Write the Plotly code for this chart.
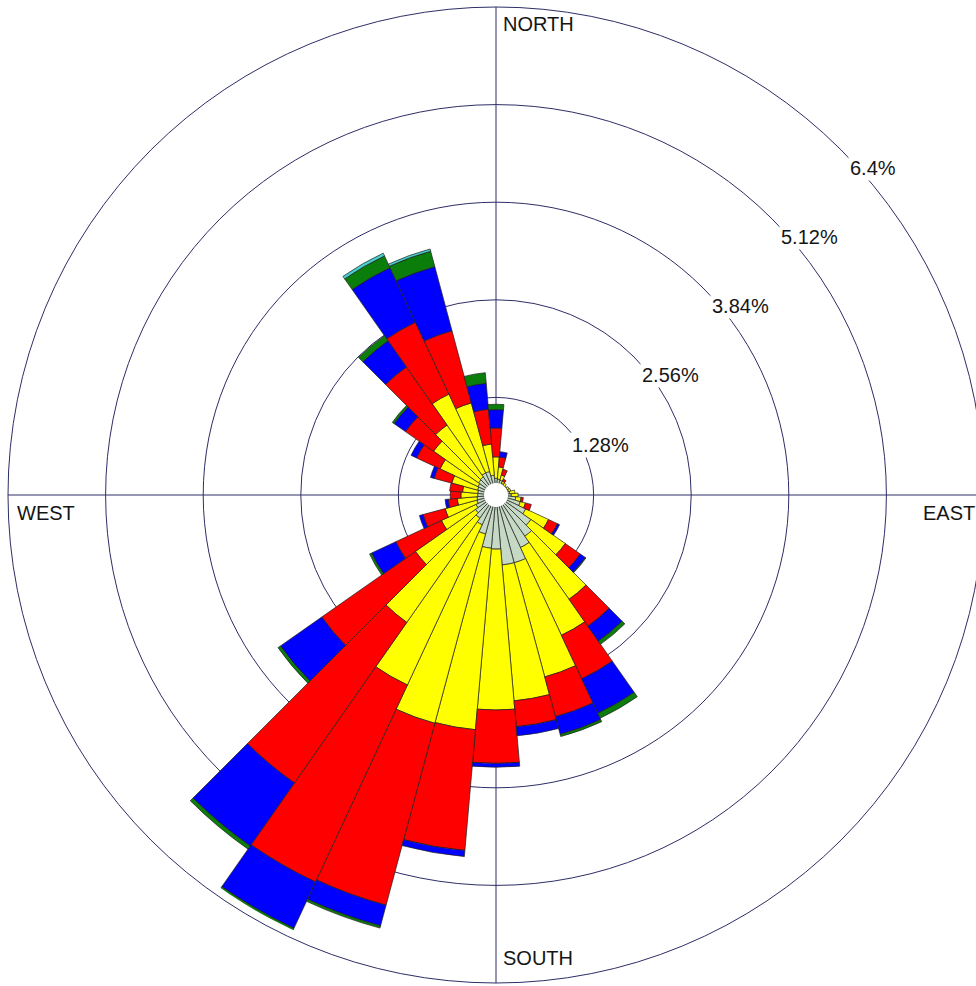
import numpy as np
import plotly.graph_objects as go

# 36 direction sectors (degrees clockwise from north)
directions = list(range(0, 360, 10))

# frequency (%) of each speed class per sector, lowest class first
speed_class_1 = [0.22, 0.21, 0.20, 0.17, 0.16, 0.16, 0.16, 0.17, 0.18, 0.20,
                 0.26, 0.33, 0.43, 0.56, 0.66, 0.76, 0.92, 0.92, 0.71, 0.70,
                 0.53, 0.43, 0.37, 0.33, 0.29, 0.26, 0.25, 0.24, 0.24, 0.25,
                 0.26, 0.28, 0.29, 0.32, 0.32, 0.26]
speed_class_2 = [0.28, 0.16, 0.07, 0.03, 0.03, 0.01, 0.03, 0.03, 0.07, 0.09,
                 0.07, 0.07, 0.33, 0.55, 1.01, 1.27, 1.55, 1.79, 2.11, 2.39,
                 2.57, 2.32, 1.67, 0.96, 0.50, 0.43, 0.26, 0.22, 0.20, 0.35,
                 0.55, 0.72, 0.83, 1.14, 0.93, 0.41]
speed_class_3 = [0.38, 0.13, 0.08, 0.03, 0.00, 0.00, 0.00, 0.00, 0.00, 0.00,
                 0.03, 0.08, 0.13, 0.24, 0.43, 0.63, 0.54, 0.34, 0.70, 1.59,
                 2.47, 2.85, 2.57, 1.50, 0.66, 0.30, 0.12, 0.14, 0.17, 0.24,
                 0.34, 0.45, 0.93, 1.04, 0.98, 0.46]
speed_class_4 = [0.24, 0.07, 0.00, 0.00, 0.00, 0.00, 0.00, 0.00, 0.00, 0.00,
                 0.00, 0.00, 0.03, 0.08, 0.24, 0.50, 0.24, 0.12, 0.05, 0.08,
                 0.28, 0.67, 1.01, 0.66, 0.35, 0.05, 0.04, 0.00, 0.00, 0.05,
                 0.08, 0.18, 0.42, 0.79, 0.87, 0.34]
speed_class_5 = [0.07, 0.00, 0.00, 0.00, 0.00, 0.00, 0.00, 0.00, 0.00, 0.00,
                 0.00, 0.00, 0.00, 0.01, 0.05, 0.07, 0.03, 0.00, 0.00, 0.00,
                 0.03, 0.03, 0.05, 0.04, 0.03, 0.00, 0.00, 0.00, 0.00, 0.00,
                 0.00, 0.03, 0.08, 0.17, 0.21, 0.14]
speed_class_6 = [0.00] * 33 + [0.04, 0.03, 0.00]

class_series = [speed_class_1, speed_class_2, speed_class_3,
                speed_class_4, speed_class_5, speed_class_6]
class_names = ["Class 1", "Class 2", "Class 3", "Class 4", "Class 5", "Class 6"]
class_colors = ["#C5D9C5", "#FFFF00", "#FF0000", "#0000FF", "#0B7D0B", "#48D1CC"]

# rings and their labels
ring_values = [1.28, 2.56, 3.84, 5.12, 6.4]
ring_labels = ["1.28%", "2.56%", "3.84%", "5.12%", "6.4%"]
label_bearing = [59.0, 52.0, 49.8, 48.6, 47.9]   # where each label sits on its ring
compass_labels = ["NORTH", "EAST", "SOUTH", "WEST"]

# layout geometry
W, H = 976, 986
M_L, M_R, M_T, M_B = 16, 0, 15, 11
PLOT = 960                      # square polar area in px
PX_PER_PCT = 76.25
R_MAX = (PLOT / 2) / PX_PER_PCT  # radial range shown by the polar area
HOLE = 0.157                    # white centre disc

GRID = "#2E2E66"
FONT = dict(family="Liberation Sans, Arial, sans-serif", size=20, color="#151515")

fig = go.Figure()

for name, vals, col in zip(class_names, class_series, class_colors):
    fig.add_trace(go.Barpolar(
        r=[v if v > 0 else None for v in vals],
        theta=directions,
        width=10,
        name=name,
        marker=dict(color=col, line=dict(color="#202020", width=0.7)),
        hoverinfo="skip",
    ))

# white centre disc
circ = np.arange(0, 360.5, 0.5)
fig.add_trace(go.Scatterpolar(
    r=[HOLE] * len(circ), theta=circ, mode="lines", fill="toself",
    fillcolor="white", line=dict(width=0, color="white"), hoverinfo="skip",
))

# the outermost ring sits just beyond the polar area's radial range,
# so it (and the ends of the four axis lines) is added as layout shapes
outer_frac = ring_values[-1] * PX_PER_PCT / PLOT
rmax_frac = R_MAX * PX_PER_PCT / PLOT
shapes = [dict(type="circle", xref="paper", yref="paper", layer="below",
               x0=0.5 - outer_frac, x1=0.5 + outer_frac,
               y0=0.5 - outer_frac, y1=0.5 + outer_frac,
               line=dict(color=GRID, width=1))]
for ang in (0, 90, 180, 270):
    s, c = np.sin(np.radians(ang)), np.cos(np.radians(ang))
    shapes.append(dict(type="line", xref="paper", yref="paper", layer="below",
                       x0=0.5 + rmax_frac * s, y0=0.5 + rmax_frac * c,
                       x1=0.5 + outer_frac * s, y1=0.5 + outer_frac * c,
                       line=dict(color=GRID, width=1)))

annotations = []
for v, txt, b in zip(ring_values, ring_labels, label_bearing):
    rp = v * PX_PER_PCT
    X = rp * np.sin(np.radians(b))
    Y = rp * np.cos(np.radians(b))
    annotations.append(dict(
        x=0.5 + (X - 10) / PLOT, y=0.5 + Y / PLOT, xref="paper", yref="paper",
        text=txt, showarrow=False, xanchor="left", yanchor="middle",
        font=FONT, bgcolor="white", borderpad=1,
    ))

compass_pos = {"NORTH": (501, 23.5), "EAST": (921, 512.5),
               "SOUTH": (501, 957.5), "WEST": (15, 512.5)}
for lab in compass_labels:
    px, py = compass_pos[lab]
    annotations.append(dict(
        x=(px - M_L) / PLOT, y=(H - M_B - py) / PLOT, xref="paper", yref="paper",
        text=lab, showarrow=False, xanchor="left", yanchor="middle", font=FONT,
    ))

fig.update_layout(
    width=W, height=H,
    margin=dict(l=M_L, r=M_R, t=M_T, b=M_B, pad=0),
    paper_bgcolor="white",
    showlegend=False,
    annotations=annotations,
    shapes=shapes,
    polar=dict(
        domain=dict(x=[0, 1], y=[0, 1]),
        bgcolor="rgba(0,0,0,0)",
        barmode="stack",
        bargap=0,
        radialaxis=dict(range=[0, R_MAX], tickvals=ring_values[:-1],
                        showticklabels=False, ticks="", showline=False,
                        gridcolor=GRID, gridwidth=1),
        angularaxis=dict(rotation=90, direction="clockwise",
                         tickvals=[0, 90, 180, 270], showticklabels=False,
                         ticks="", showline=False, gridcolor=GRID, gridwidth=1),
    ),
)

fig.write_html("out.html")
